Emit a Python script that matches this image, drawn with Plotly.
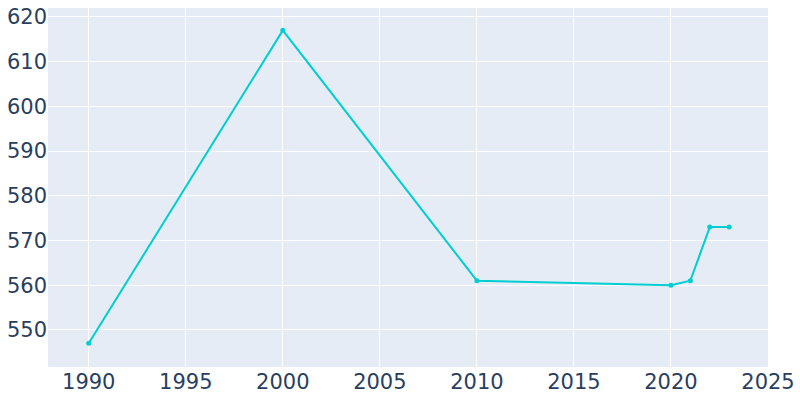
import plotly.graph_objects as go

years = [1990, 2000, 2010, 2020, 2021, 2022, 2023]
population = [547, 617, 561, 560, 561, 573, 573]

fig = go.Figure(go.Scatter(
    x=years, y=population, mode="lines+markers",
    line=dict(color="#00CED1", width=2),
    marker=dict(color="#00CED1", size=5),
))
fig.update_layout(
    width=800, height=400,
    margin=dict(l=48, r=32, t=8, b=33),
    template="plotly",
    font=dict(family="DejaVu Sans", size=21, color="#2a3f5f"),
    showlegend=False,
)
fig.update_xaxes(automargin=False, range=[1987.9, 2025],
                 tickvals=[1990, 1995, 2000, 2005, 2010, 2015, 2020, 2025])
fig.update_yaxes(automargin=False, range=[541.7, 622],
                 tickvals=[550, 560, 570, 580, 590, 600, 610, 620])
fig.write_html("out.html", config={"displayModeBar": False},
               post_script="document.body.style.margin='0';")
